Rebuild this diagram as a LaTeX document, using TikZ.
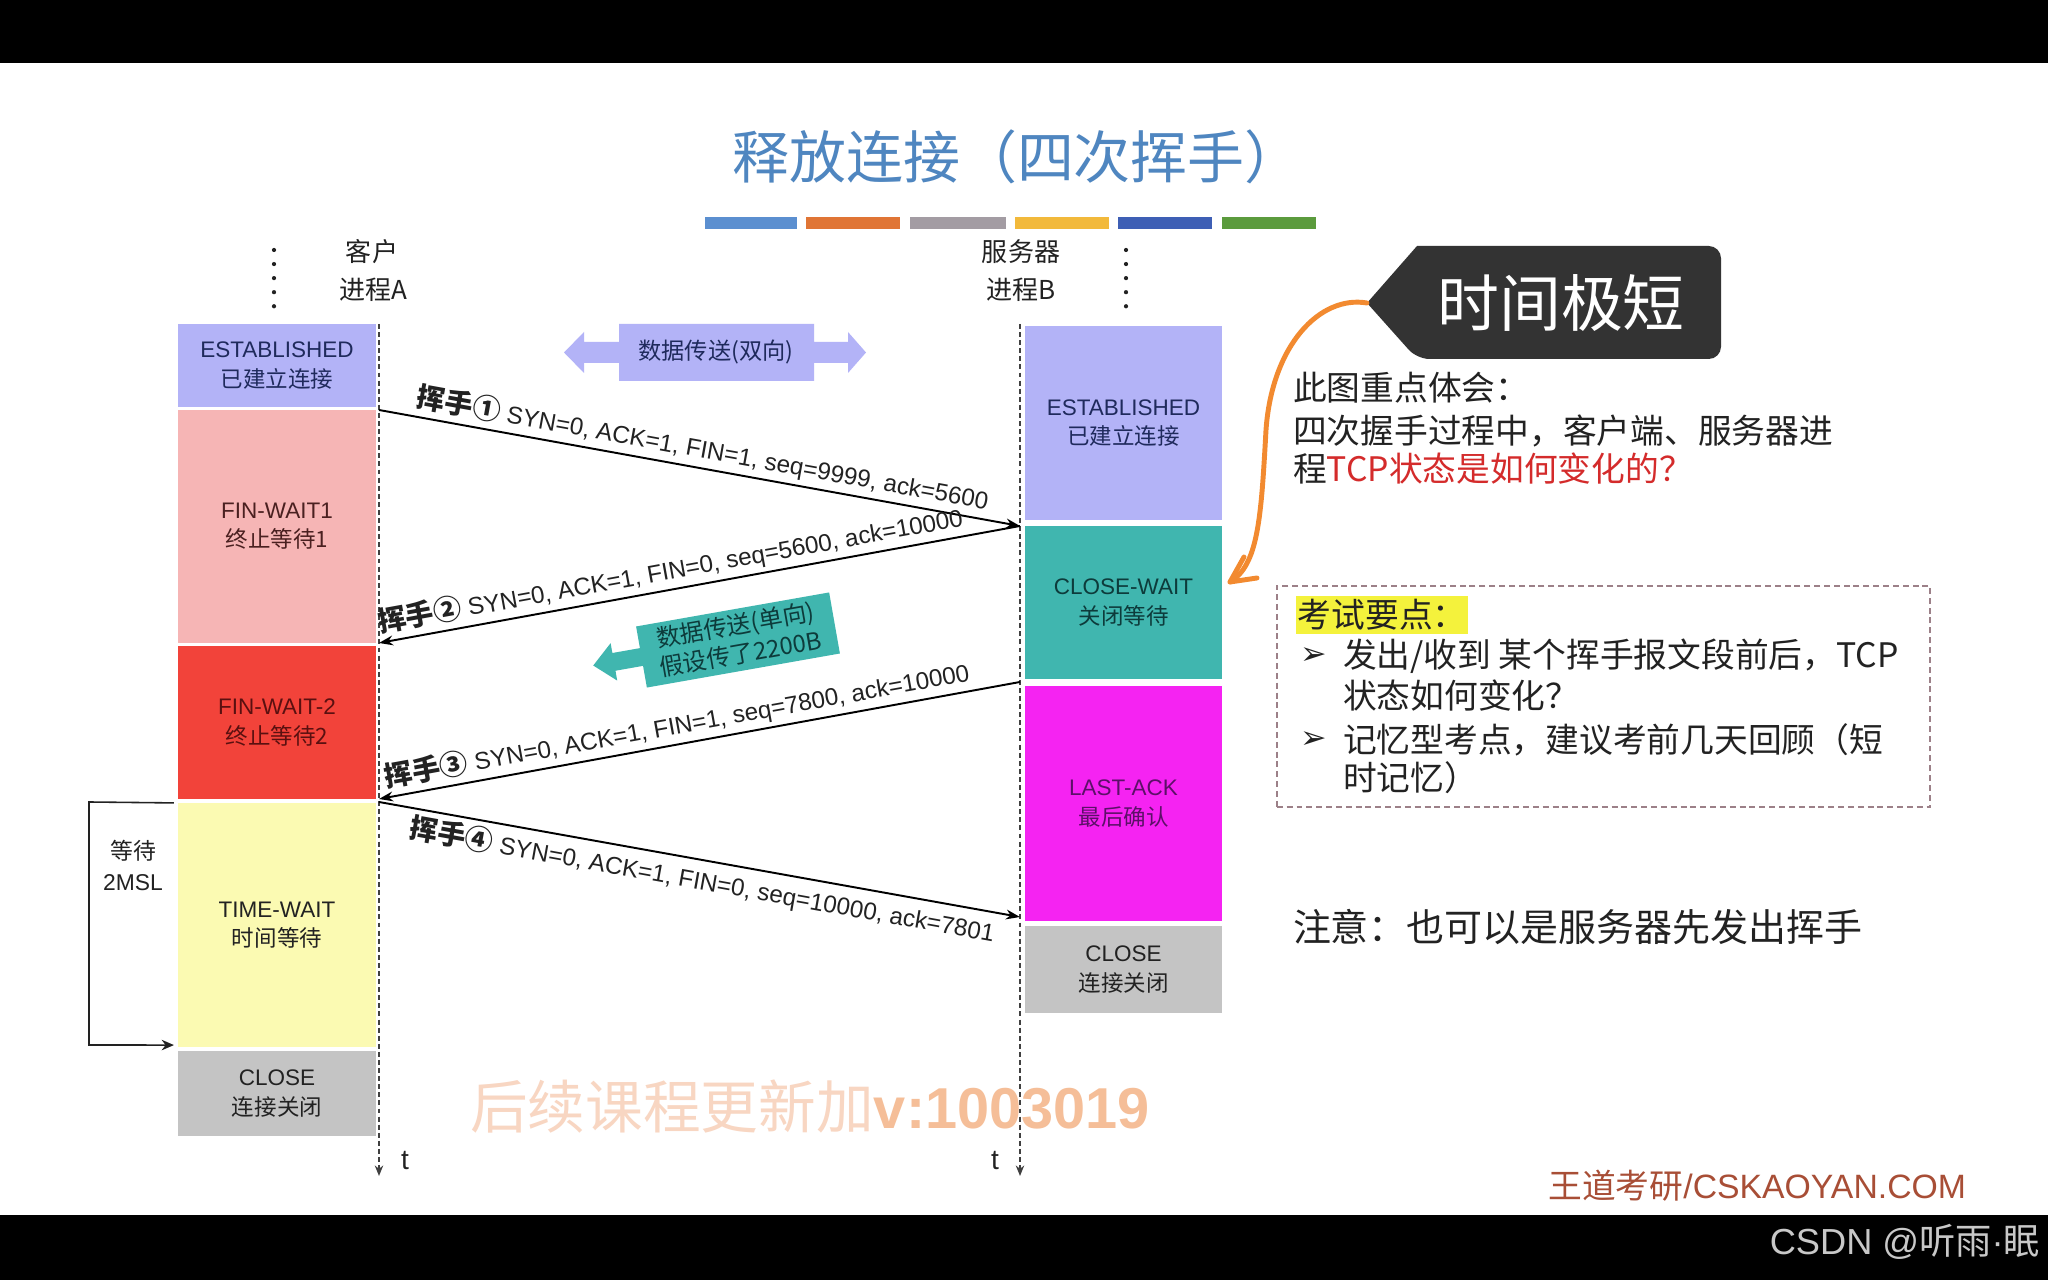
\documentclass[tikz,border=0pt]{standalone}
\usepackage{fontspec}
\setmainfont{Liberation Sans}
\newfontfamily\cjk{Noto Sans CJK SC}
\newfontfamily\dejavu{DejaVu Sans}
\usetikzlibrary{arrows.meta}
\definecolor{titleblue}{HTML}{4F86C0}
\definecolor{estab}{HTML}{B3B3F7}
\definecolor{finwa}{HTML}{F6B5B5}
\definecolor{finwb}{HTML}{F2433A}
\definecolor{timew}{HTML}{FBFAB2}
\definecolor{closeg}{HTML}{C4C4C4}
\definecolor{closew}{HTML}{40B6AF}
\definecolor{lastack}{HTML}{F523F2}
\definecolor{callout}{HTML}{333333}
\definecolor{oline}{HTML}{F28A30}
\definecolor{qred}{HTML}{D42B2B}
\definecolor{hl}{HTML}{F4F23C}
\definecolor{dashbox}{HTML}{9C8088}
\definecolor{brand}{HTML}{A84E36}
\definecolor{wm}{HTML}{F8D6C2}
\definecolor{wmb}{HTML}{F5BE98}
\definecolor{barA}{HTML}{5B8FD0}
\definecolor{barB}{HTML}{E07535}
\definecolor{barC}{HTML}{A39CA3}
\definecolor{barD}{HTML}{F2B93B}
\definecolor{barE}{HTML}{3E5FB5}
\definecolor{barF}{HTML}{5B9B3D}
\definecolor{esttxt}{HTML}{1F2A5C}
\definecolor{fwatxt}{HTML}{4A2020}
\definecolor{fwbtxt}{HTML}{5A1010}
\definecolor{cwtxt}{HTML}{0D3B3B}
\definecolor{latxt}{HTML}{5C1068}
\definecolor{csdn}{HTML}{C8C8C8}
\definecolor{ink}{HTML}{222222}
\newcommand{\fsz}[2]{\fontsize{#1}{#2}\selectfont}
\newcommand{\hsk}[1]{{\cjk\bfseries\fsz{8}{9}挥手#1}\ }
\begin{document}
\begin{tikzpicture}[x=0.01cm, y=-0.01cm,
  every node/.style={inner sep=0pt, outer sep=0pt},
  stbox/.style={rectangle, align=center, font=\fsz{6.4}{8.3}},
  cbox/.style={stbox, minimum width=1.98cm},
  sbox/.style={stbox, minimum width=1.97cm},
  hdr/.style={font=\cjk\fsz{7.4}{9}, text=ink},
  tline/.style={draw=black!75, line width=0.45pt, dash pattern=on 1.4pt off 0.9pt, -{Stealth[length=3pt,width=2.4pt]}},
  msg/.style={draw=black, line width=0.55pt},
  msgfw/.style={msg, -{Stealth[length=4pt,width=2.8pt]}},
  msgbw/.style={msg, {Stealth[length=4pt,width=2.8pt]}-},
  mlab/.style={font=\fsz{6.9}{8}, text=ink},
  rt/.style={font=\cjk\fsz{9.6}{11}, text=ink},
  orl/.style={draw=oline, line width=1.4pt, line cap=round, line join=round},
  dots/.style={line width=1.2pt, line cap=round, dash pattern=on 0pt off 4pt, draw=ink},
  bul/.style={font=\dejavu\fsz{9}{10}, text=ink}
]
\useasboundingbox (0,0) rectangle (2048,1280);
\fill[white] (0,0) rectangle (2048,1280);
\fill[black] (0,0) rectangle (2048,63);
\fill[black] (0,1215) rectangle (2048,1280);

% title and colour bars
\node[font=\cjk\fsz{16.2}{19}, text=titleblue] (title) at (1017,157) {释放连接（四次挥手）};
\fill[barA] (705,217) rectangle (797,229);
\fill[barB] (806,217) rectangle (900,229);
\fill[barC] (910,217) rectangle (1006,229);
\fill[barD] (1015,217) rectangle (1109,229);
\fill[barE] (1118,217) rectangle (1212,229);
\fill[barF] (1222,217) rectangle (1316,229);

% watermark
\node[font=\fsz{16.4}{19}, text=wm] (wmk) at (810,1107) {{\cjk 后续课程更新加}{\bfseries\color{wmb}v:1003019}};

% headers
\node[hdr] (kh) at (372,252) {客户};
\node[hdr] (jA) at (373,290) {进程A};
\node[hdr] (fwq) at (1021,252) {服务器};
\node[hdr] (jB) at (1021,290) {进程B};
\draw[dots] (274,250) -- (274,314);
\draw[dots] (1126,250) -- (1126,314);

% client states
\node[cbox, fill=estab, text=esttxt, minimum height=0.83cm] (cE) at (277,365.5) {ESTABLISHED\\{\cjk 已建立连接}};
\node[cbox, fill=finwa, text=fwatxt, minimum height=2.33cm] (cF1) at (277,526.5) {FIN-WAIT1\\{\cjk 终止等待1}};
\node[cbox, fill=finwb, text=fwbtxt, minimum height=1.53cm] (cF2) at (277,722.5) {FIN-WAIT-2\\{\cjk 终止等待2}};
\node[cbox, fill=timew, text=ink, minimum height=2.44cm] (tw) at (277,925) {TIME-WAIT\\{\cjk 时间等待}};
\node[cbox, fill=closeg, text=ink, minimum height=0.85cm] (cC) at (277,1093.5) {CLOSE\\{\cjk 连接关闭}};

% server states
\node[sbox, fill=estab, text=esttxt, minimum height=1.94cm] (sE) at (1123.5,423) {ESTABLISHED\\{\cjk 已建立连接}};
\node[sbox, fill=closew, text=cwtxt, minimum height=1.53cm] (cw) at (1123.5,602.5) {CLOSE-WAIT\\{\cjk 关闭等待}};
\node[sbox, fill=lastack, text=latxt, minimum height=2.35cm] (la) at (1123.5,803.5) {LAST-ACK\\{\cjk 最后确认}};
\node[sbox, fill=closeg, text=ink, minimum height=0.87cm] (sC) at (1123.5,969.5) {CLOSE\\{\cjk 连接关闭}};

% time lines
\coordinate (ctop) at (379,324);
\coordinate (cbot) at (379,1176);
\coordinate (stop) at (1020,324);
\coordinate (sbot) at (1020,1176);
\draw[tline] (ctop) -- (cbot);
\draw[tline] (stop) -- (sbot);
\node[font=\fsz{8}{9}, text=ink] (tC) at (405,1161) {t};
\node[font=\fsz{8}{9}, text=ink] (tS) at (995,1161) {t};

% bidirectional data
\fill[estab] (564,352.5) -- (584,332) -- (584,342) -- (619,342) -- (619,324) -- (814,324) -- (814,342) -- (848,342) -- (848,332) -- (866,352.5) -- (848,373) -- (848,363) -- (814,363) -- (814,381) -- (619,381) -- (619,363) -- (584,363) -- (584,373) -- cycle;
\node[font=\cjk\fsz{6.6}{8}, text=esttxt] (bidir) at (716,352.5) {数据传送(双向)};

% unidirectional data
\begin{scope}[shift={(738,640)}, rotate=10]
\fill[closew] (-147,0) -- (-126,-19) -- (-126,-9) -- (-98,-9) -- (-98,-31) -- (98,-31) -- (98,31) -- (-98,31) -- (-98,9) -- (-126,9) -- (-126,19) -- cycle;
\node[transform shape, font=\cjk\fsz{6.8}{8}, text=cwtxt] (unida) at (0,-14) {数据传送(单向)};
\node[transform shape, font=\cjk\fsz{6.8}{8}, text=cwtxt] (unidb) at (0,14) {假设传了2200B};
\end{scope}

% messages
\coordinate (a1) at (379,410);
\coordinate (b1) at (1020,526);
\coordinate (a2) at (379,643);
\coordinate (a3) at (379,799);
\coordinate (b3) at (1020,682);
\coordinate (a4) at (379,802);
\coordinate (b4) at (1020,917);
\draw[msgfw] (a1) -- (b1) node[mlab, sloped, pos=0.5, above=1.5pt] {\hsk{①}SYN=0, ACK=1, FIN=1, seq=9999, ack=5600};
\draw[msgbw] (a2) -- (b1) node[mlab, sloped, pos=0.46, above=1.5pt] {\hsk{②}SYN=0, ACK=1, FIN=0, seq=5600, ack=10000};
\draw[msgbw] (a3) -- (b3) node[mlab, sloped, pos=0.47, above=1.5pt] {\hsk{③}SYN=0, ACK=1, FIN=1, seq=7800, ack=10000};
\draw[msgfw] (a4) -- (b4) node[mlab, sloped, pos=0.51, below=1.5pt] {\hsk{④}SYN=0, ACK=1, FIN=0, seq=10000, ack=7801};

% 2MSL bracket
\coordinate (bk1) at (89,802);
\coordinate (bk2) at (89,1045);
\draw[draw=ink, line width=0.45pt, -{Stealth[length=3.5pt,width=3pt]}] ([xshift=-0.04cm]tw.north west) -- (bk1) -- (bk2) -- ([xshift=-0.04cm,yshift=0.02cm]tw.south west);
\node[align=center, font=\fsz{6.5}{8.8}, text=ink] (msl) at (133,865) {{\cjk 等待}\\2MSL};

% callout
\fill[callout] (1367,303) -- (1417,246) [rounded corners=3.5pt] -- (1721,246) -- (1721,359) -- (1417,359) [sharp corners] -- cycle;
\node[font=\cjk\fsz{17.6}{20}, text=white] (short) at (1561,303) {时间极短};
\coordinate (ctip) at (1367,303);
\coordinate (oend) at (1230,582);
\draw[orl] (ctip) .. controls (1320,295) and (1272,345) .. (1266,430) .. controls (1261,520) and (1258,565) .. (oend);
\draw[orl] (1244,557) -- (oend) -- (1257,578);

% right text
\node[rt, anchor=west] (n1) at (1293,388) {此图重点体会：};
\node[rt, anchor=west] (n2) at (1293,431) {四次握手过程中，客户端、服务器进};
\node[rt, anchor=west] (n3) at (1293,469) {程\textcolor{qred}{TCP状态是如何变化的？}};

\node[draw=dashbox, line width=0.6pt, dash pattern=on 1.7pt off 1.1pt, minimum width=6.53cm, minimum height=2.21cm] (exam) at (1603.5,696.5) {};
\node[rt, anchor=west, fill=hl, inner xsep=0.5pt, inner ysep=1pt] (kd) at (1296,615) {考试要点：};
\node[bul] (bu1) at (1314,656) {➢};
\node[bul] (bu2) at (1314,740) {➢};
\node[rt, anchor=west] (e1) at (1343,656) {发出/收到 某个挥手报文段前后，TCP};
\node[rt, anchor=west] (e2) at (1343,696) {状态如何变化？};
\node[rt, anchor=west] (e3) at (1343,740) {记忆型考点，建议考前几天回顾（短};
\node[rt, anchor=west] (e4) at (1343,778) {时记忆）};

\node[font=\cjk\fsz{10.8}{12}, text=ink, anchor=west] (note) at (1293,927) {注意：也可以是服务器先发出挥手};

% footer
\node[anchor=east, text=brand, font=\fsz{9.6}{11}] (brandn) at (1966,1186) {{\cjk 王道考研}/CSKAOYAN.COM};
\node[anchor=east, text=csdn, font=\fsz{10.3}{12}] (csdnn) at (2040,1242) {CSDN @{\cjk 听雨}·{\cjk 眠}};
\end{tikzpicture}
\end{document}
